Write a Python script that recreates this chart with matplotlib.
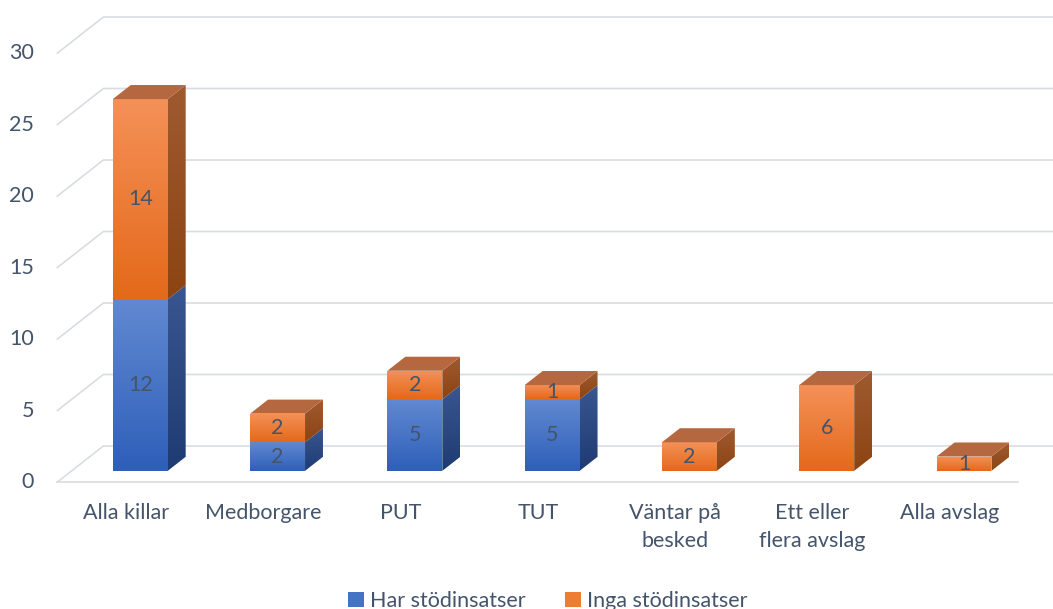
import numpy as np
import matplotlib.pyplot as plt
from matplotlib.patches import Polygon, Patch
from matplotlib.colors import to_rgb

plt.rcParams['font.family'] = ['Lato', 'DejaVu Sans']

categories = ['Alla killar', 'Medborgare', 'PUT', 'TUT', 'Väntar på\nbesked',
              'Ett eller\nflera avslag', 'Alla avslag']
har = [12, 2, 5, 5, 0, 0, 0]
inga = [14, 2, 2, 1, 2, 6, 1]
yticks = [0, 5, 10, 15, 20, 25, 30]

TXT = '#44546a'
GRID = '#d9dce3'
FS = 15.5
DX, DY = 0.335, 2.52      # depth of the floor / left wall
F1, F2 = 0.31, 0.70       # bar front/back depth fraction
HW = 0.2                  # half bar width

fig = plt.figure(figsize=(10.53, 6.09), dpi=100)
ax = fig.add_axes([0, 0, 1, 1])
ax.axis('off')


def grad_fill(xy, c_top, c_bot, z):
    xy = np.asarray(xy)
    patch = Polygon(xy, closed=True, fc='none', ec='none')
    ax.add_patch(patch)
    t = np.linspace(0, 1, 64)[:, None]
    img = (1 - t) * np.array(to_rgb(c_top)) + t * np.array(to_rgb(c_bot))
    im = ax.imshow(img[:, None, :], extent=[xy[:, 0].min(), xy[:, 0].max(),
                                            xy[:, 1].min(), xy[:, 1].max()],
                   aspect='auto', origin='upper', zorder=z, interpolation='bilinear')
    im.set_clip_path(patch)


# walls
for v in yticks:
    ax.plot([-0.5, -0.5 + DX, 6.5 + DX + 1], [v, v + DY, v + DY], color=GRID, lw=1.2, zorder=1)
    ax.text(-0.67, v, str(v), ha='right', va='center', fontsize=FS, color=TXT)
ax.plot([-0.5, 6.5], [0, 0], color=GRID, lw=1.2, zorder=1)

styles = {
    'har': dict(front=('#6189d1', '#2e5fb9'), side=('#3a5690', '#1e3b73'), top='#4a6fb0'),
    'inga': dict(front=('#f49158', '#e4691a'), side=('#9f5a30', '#8c4412'), top='#b5683f'),
}

d = F2 - F1
for i in range(len(categories)):
    base = 0
    segs = [('har', har[i]), ('inga', inga[i])]
    segs = [s for s in segs if s[1] > 0]
    for k, (name, val) in enumerate(segs):
        st = styles[name]
        xl = i - HW + F1 * DX
        xr = i + HW + F1 * DX
        y0 = base + F1 * DY
        y1 = base + val + F1 * DY
        grad_fill([(xl, y0), (xr, y0), (xr, y1), (xl, y1)], st['front'][0], st['front'][1], 3)
        grad_fill([(xr, y0), (xr + d * DX, y0 + d * DY), (xr + d * DX, y1 + d * DY), (xr, y1)],
                  st['side'][0], st['side'][1], 3)
        if k == len(segs) - 1:
            ax.add_patch(Polygon([(xl, y1), (xr, y1), (xr + d * DX, y1 + d * DY),
                                  (xl + d * DX, y1 + d * DY)], closed=True,
                                 fc=st['top'], ec='none', zorder=3))
        ax.text((xl + xr) / 2, (y0 + y1) / 2, str(val), ha='center', va='center',
                fontsize=FS, color=TXT, zorder=5)
        base += val
    ax.text(i, -1.5, categories[i], ha='center', va='top', fontsize=FS,
            color=TXT, linespacing=1.5)

ax.set_xlim(-0.918, 6.752)
ax.set_ylim(-8.88, 33.71)

handles = [Patch(facecolor='#4472c4', label='Har stödinsatser'),
           Patch(facecolor='#ed7d31', label='Inga stödinsatser')]
fig.legend(handles=handles, loc='lower center', bbox_to_anchor=(0.52, -0.035), ncol=2,
           frameon=False, fontsize=FS, handlelength=0.75, handleheight=0.75,
           handletextpad=0.25, columnspacing=1.85, labelcolor=TXT)

fig.savefig('out.png', dpi=100)
